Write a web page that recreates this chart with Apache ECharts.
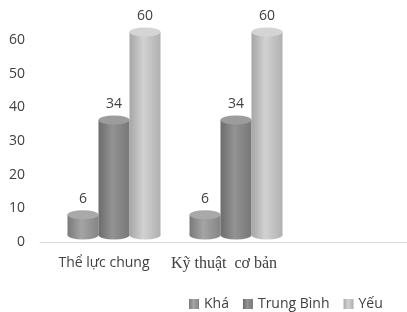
<!DOCTYPE html>
<html>
<head>
<meta charset="utf-8">
<script src="https://cdn.jsdelivr.net/npm/echarts@6/dist/echarts.min.js"></script>
<style>
  html, body { margin: 0; padding: 0; background: #fff; }
  #main { width: 407px; height: 312px; }
</style>
</head>
<body>
<div id="main"></div>
<script>
var categories = ["Thể lực chung", "Kỹ thuật  cơ bản", ""];
var seriesNames = ["Khá", "Trung Bình", "Yếu"];
var kha = [6, 6];
var trungBinh = [34, 34];
var yeu = [60, 60];
var yTicks = [0, 10, 20, 30, 40, 50, 60];

// mau cho tung cot tru (trai, giua, phai, nap)
var shades = [
  ["#7a7a7a", "#a4a4a4", "#858585", "#a9a9a9"],
  ["#6c6c6c", "#939393", "#777777", "#9c9c9c"],
  ["#a6a6a6", "#d2d2d2", "#b0b0b0", "#d4d4d4"]
];
var values = [kha, trungBinh, yeu];

function side(s) {
  return {
    type: "linear", x: 0, y: 0, x2: 1, y2: 0,
    colorStops: [
      { offset: 0, color: s[0] },
      { offset: 0.45, color: s[1] },
      { offset: 1, color: s[2] }
    ]
  };
}

var myChart = echarts.init(document.getElementById("main"));
var series = [];
values.forEach(function (v, i) {
  series.push({
    name: seriesNames[i],
    type: "bar",
    xAxisIndex: 1,
    yAxisIndex: 1,
    data: v,
    barWidth: 31,
    barGap: "0%",
    itemStyle: { color: side(shades[i]) },
    label: {
      show: true,
      position: "top",
      distance: 9,
      fontFamily: "Open Sans",
      fontSize: 14,
      color: "#404040"
    },
    z: 2
  });
  // nap tren
  series.push({
    name: seriesNames[i] + "_top",
    type: "pictorialBar",
    xAxisIndex: 1,
    yAxisIndex: 1,
    data: v,
    symbol: "circle",
    symbolSize: [31, 9],
    symbolPosition: "end",
    symbolOffset: [0, "-50%"],
    barWidth: 31,
    barGap: "0%",
    itemStyle: { color: shades[i][3] },
    z: 3
  });
  // day
  series.push({
    name: seriesNames[i] + "_bottom",
    type: "pictorialBar",
    xAxisIndex: 2,
    yAxisIndex: 1,
    data: v,
    symbol: "circle",
    symbolSize: [31, 9],
    symbolPosition: "start",
    symbolOffset: [0, "50%"],
    barWidth: 31,
    barGap: "0%",
    itemStyle: { color: side(shades[i]) },
    z: 1
  });
});

myChart.setOption({
  animation: false,
  textStyle: { fontFamily: "Open Sans" },
  legend: {
    data: seriesNames,
    left: 184,
    top: 292,
    icon: "rect",
    itemWidth: 10,
    itemHeight: 10,
    itemGap: 14,
    textStyle: { fontSize: 14, color: "#404040", fontFamily: "Open Sans" }
  },
  grid: [
    { left: 40, right: 0, top: 40, bottom: 70, outerBoundsMode: "none" },
    { left: 53, width: 366, top: 32, bottom: 77, outerBoundsMode: "none" }
  ],
  xAxis: [
    {
      type: "category",
      gridIndex: 0,
      data: categories,
      axisLine: { lineStyle: { color: "#d9d9d9", width: 1 } },
      axisTick: { show: false },
      axisLabel: { show: false }
    },
    {
      type: "category",
      gridIndex: 1,
      data: categories,
      axisLine: { show: false },
      axisTick: { show: false },
      axisLabel: {
        interval: 0,
        margin: 21,
        fontFamily: "Open Sans",
        formatter: function (val, idx) {
          return idx === 0 ? "{a|" + val + "}" : "{b|" + val + "}";
        },
        rich: {
          a: { fontFamily: "Open Sans", fontSize: 14, color: "#404040", padding: [0, 20, 0, 0] },
          b: { fontFamily: "Liberation Serif", fontSize: 16, color: "#404040", padding: [0, 24, 0, 0] }
        }
      }
    },
    {
      type: "category",
      gridIndex: 1,
      data: categories,
      show: false
    }
  ],
  yAxis: [
    {
      type: "value",
      gridIndex: 0,
      min: yTicks[0],
      max: yTicks[yTicks.length - 1],
      interval: 10,
      axisLine: { show: false },
      axisTick: { show: false },
      splitLine: { show: false },
      axisLabel: { margin: 15, fontSize: 14, color: "#404040", fontFamily: "Open Sans" }
    },
    {
      type: "value",
      gridIndex: 1,
      min: 0,
      max: 60,
      show: false,
      splitLine: { show: false }
    }
  ],
  series: series
});
</script>
</body>
</html>
